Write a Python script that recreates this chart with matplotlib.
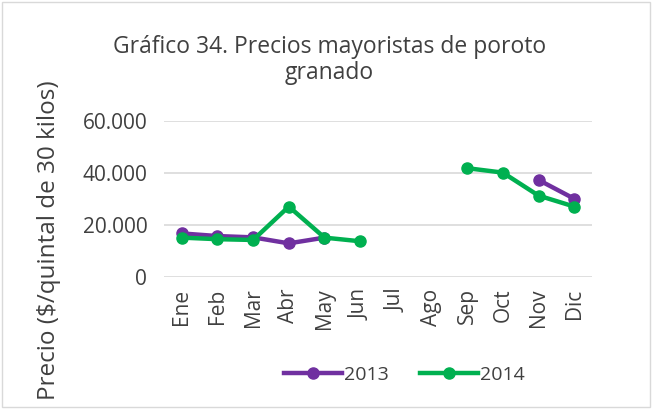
import numpy as np
import matplotlib
matplotlib.use("Agg")
import matplotlib.pyplot as plt
from matplotlib.ticker import FuncFormatter
from matplotlib.patches import Rectangle

# --- data ---------------------------------------------------------------
months = ["Ene", "Feb", "Mar", "Abr", "May", "Jun",
          "Jul", "Ago", "Sep", "Oct", "Nov", "Dic"]
precio_2013 = [16800, 15800, 15300, 13000, 15200, np.nan,
               np.nan, np.nan, np.nan, np.nan, 37300, 30100]
precio_2014 = [15200, 14600, 14300, 27100, 15200, 13800,
               np.nan, np.nan, 41800, 40100, 31300, 27100]
yticks = [0, 20000, 40000, 60000]

plt.rcParams["font.family"] = ["Open Sans", "DejaVu Sans"]
text_col = "#404040"

fig = plt.figure(figsize=(6.52, 4.09), dpi=100)
ax = fig.add_axes([0.2515, 0.322, 0.6565, 0.383])

x = np.arange(len(months))
ax.plot(x, precio_2013, color="#7030A0", lw=3.2, marker="o", ms=8,
        label="2013", zorder=3)
ax.plot(x, precio_2014, color="#00B050", lw=3.2, marker="o", ms=8,
        label="2014", zorder=4)

ax.set_xlim(-0.5, len(months) - 0.5)
ax.set_ylim(0, 60000)
ax.set_yticks(yticks)
ax.yaxis.set_major_formatter(FuncFormatter(lambda v, p: f"{int(v):,}".replace(",", ".")))
ax.set_xticks(x)
ax.set_xticklabels(months, rotation=90)
ax.tick_params(length=0, labelsize=15, colors=text_col)
ax.tick_params(axis="y", pad=12)
ax.tick_params(axis="x", pad=8)
ax.grid(axis="y", color="#D9D9D9", lw=1.2)
ax.set_axisbelow(True)
for s in ax.spines.values():
    s.set_visible(False)

ax.set_ylabel("Precio ($/quintal de 30 kilos)", fontsize=17.5, color=text_col)
ax.yaxis.set_label_coords(-0.24, 0.24)

fig.text(0.505, 0.853, "Gráfico 34. Precios mayoristas de poroto\ngranado",
         ha="center", va="center", fontsize=16.5, color=text_col, linespacing=1.15)

leg = fig.legend(loc="center", bbox_to_anchor=(0.62, 0.084), ncol=2, frameon=False,
                 fontsize=14, handlelength=3.0, columnspacing=1.6, handletextpad=0.1)
for t in leg.get_texts():
    t.set_color(text_col)

fig.patches.append(Rectangle((0.003, 0.005), 0.994, 0.99, transform=fig.transFigure,
                             fill=False, edgecolor="#D9D9D9", lw=1))

fig.savefig("out.png", dpi=100)
